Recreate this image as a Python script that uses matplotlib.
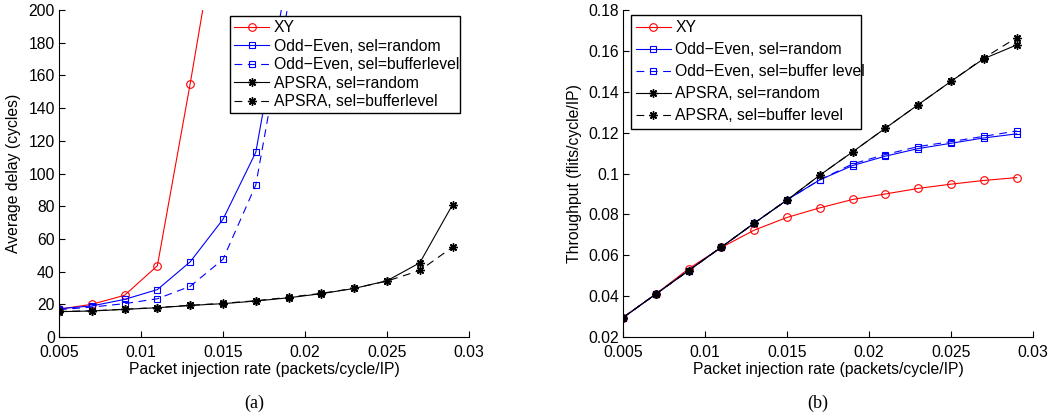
import numpy as np
import matplotlib
matplotlib.use('Agg')
import matplotlib.pyplot as plt
from matplotlib.ticker import FuncFormatter

plt.rcParams['font.family'] = ['Liberation Sans', 'DejaVu Sans']
plt.rcParams['font.size'] = 11

rate = [0.005, 0.007, 0.009, 0.011, 0.013, 0.015, 0.017, 0.019,
        0.021, 0.023, 0.025, 0.027, 0.029]

# (a) average delay, cycles
delay_xy = [17, 20, 25.5, 43.6, 155, 273]
delay_oe_random = [17.3, 19, 23, 29, 46, 72, 113, 225]
delay_oe_buffer = [16.7, 18.3, 20.4, 23.4, 31, 47.5, 93, 205]
delay_apsra_random = [15.5, 15.9, 16.9, 17.9, 19.3, 20.4, 22, 24,
                      26.5, 29.7, 34.4, 45.4, 81]
delay_apsra_buffer = [15.6, 16.0, 17.0, 18.0, 19.4, 20.6, 22.2, 24.3,
                      26.7, 29.8, 34.2, 40.7, 55]

# (b) throughput, flits/cycle/IP
thr_xy = [0.0295, 0.041, 0.0534, 0.0638, 0.0723, 0.0785, 0.0832, 0.0873,
          0.0900, 0.0927, 0.0948, 0.0966, 0.0980]
thr_oe_random = [0.0295, 0.041, 0.0525, 0.064, 0.0757, 0.0871, 0.0969,
                 0.1039, 0.1085, 0.1122, 0.1148, 0.1174, 0.1194]
thr_oe_buffer = [0.0295, 0.041, 0.0525, 0.064, 0.0757, 0.0871, 0.0969,
                 0.1047, 0.1093, 0.1132, 0.1156, 0.1182, 0.1208]
thr_apsra_random = [0.0295, 0.041, 0.0525, 0.064, 0.0757, 0.087, 0.0992,
                    0.1106, 0.1222, 0.1337, 0.1451, 0.1562, 0.1629]
thr_apsra_buffer = [0.0295, 0.041, 0.0525, 0.064, 0.0757, 0.087, 0.0992,
                    0.1106, 0.1222, 0.1337, 0.1451, 0.1565, 0.1665]

LW = 0.8
DASH = (0, (7, 5))
ASTER = (8, 2, 0)


def series(ax, yxy, yoer, yoeb, yar, yab, labels):
    n = len
    ax.plot(rate[:n(yxy)], yxy, color='red', lw=LW, marker='o', ms=5.5,
            mfc='none', mec='red', mew=0.8, label=labels[0])
    ax.plot(rate[:n(yoer)], yoer, color='blue', lw=LW, marker='s', ms=4.5,
            mfc='none', mec='blue', mew=0.8, label=labels[1])
    ax.plot(rate[:n(yoeb)], yoeb, color='blue', lw=LW, ls=DASH, marker='s',
            ms=4.5, mfc='none', mec='blue', mew=0.8, label=labels[2])
    ax.plot(rate[:n(yar)], yar, color='black', lw=LW, marker=ASTER, ms=6,
            mec='black', mew=1.0, label=labels[3])
    ax.plot(rate[:n(yab)], yab, color='black', lw=LW, ls=DASH, marker=ASTER,
            ms=6, mec='black', mew=1.0, label=labels[4])


def style(ax):
    for s in ['top', 'right']:
        ax.spines[s].set_visible(False)
    for s in ['left', 'bottom']:
        ax.spines[s].set_linewidth(0.8)
    ax.tick_params(direction='in', length=4, width=0.8, labelsize=11.3)
    ax.tick_params(axis='x', pad=5.5)
    ax.tick_params(axis='y', pad=3)
    ax.xaxis.set_major_formatter(FuncFormatter(lambda v, p: '%g' % v))
    ax.yaxis.set_major_formatter(FuncFormatter(lambda v, p: '%g' % round(v, 6)))
    ax.set_xlim(0.005, 0.03)
    ax.set_xticks(np.arange(0.005, 0.0301, 0.005))
    ax.set_xlabel('Packet injection rate (packets/cycle/IP)', labelpad=1.5,
                  fontsize=11.3)


fig = plt.figure(figsize=(10.59, 4.19), dpi=100)
ax1 = fig.add_axes([0.0557, 0.1957, 0.3872, 0.7804])
ax2 = fig.add_axes([0.5883, 0.1957, 0.3872, 0.7804])

series(ax1, delay_xy, delay_oe_random, delay_oe_buffer,
       delay_apsra_random, delay_apsra_buffer,
       ['XY', 'Odd\u2212Even, sel=random', 'Odd\u2212Even, sel=bufferlevel',
        'APSRA, sel=random', 'APSRA, sel=bufferlevel'])
style(ax1)
ax1.set_ylim(0, 200)
ax1.set_yticks(np.arange(0, 201, 20))
ax1.set_ylabel('Average delay (cycles)', labelpad=5, fontsize=11.3)
leg1 = ax1.legend(loc='upper left', bbox_to_anchor=(0.417, 0.679, 0.561, 0.303),
                  mode='expand', fancybox=False, edgecolor='black', framealpha=1,
                  handlelength=2.2, handletextpad=0.3, labelspacing=0.22,
                  borderpad=0.28, borderaxespad=0, fontsize=11.3)
leg1.get_frame().set_linewidth(1.0)
leg1.set_zorder(5)

series(ax2, thr_xy, thr_oe_random, thr_oe_buffer,
       thr_apsra_random, thr_apsra_buffer,
       ['XY', 'Odd\u2212Even, sel=random', 'Odd\u2212Even, sel=buffer level',
        'APSRA, sel=random', 'APSRA, sel=buffer level'])
style(ax2)
ax2.set_ylim(0.02, 0.18)
ax2.set_yticks(np.arange(0.02, 0.1801, 0.02))
ax2.set_ylabel('Throughput (flits/cycle/IP)', labelpad=4, fontsize=11.3)
leg2 = ax2.legend(loc='upper left', bbox_to_anchor=(0.0195, 0.639, 0.561, 0.346),
                  mode='expand', fancybox=False, edgecolor='black', framealpha=1,
                  handlelength=2.2, handletextpad=0.3, labelspacing=0.45,
                  borderpad=0.33, borderaxespad=0, fontsize=11.3)
leg2.get_frame().set_linewidth(1.0)
leg2.set_zorder(5)

fig.text(254 / 1059, 1 - 403 / 419, '(a)', family='Liberation Serif',
         fontsize=13, ha='center', va='center')
fig.text(818 / 1059, 1 - 403 / 419, '(b)', family='Liberation Serif',
         fontsize=13, ha='center', va='center')

fig.savefig('out.png', dpi=100)
